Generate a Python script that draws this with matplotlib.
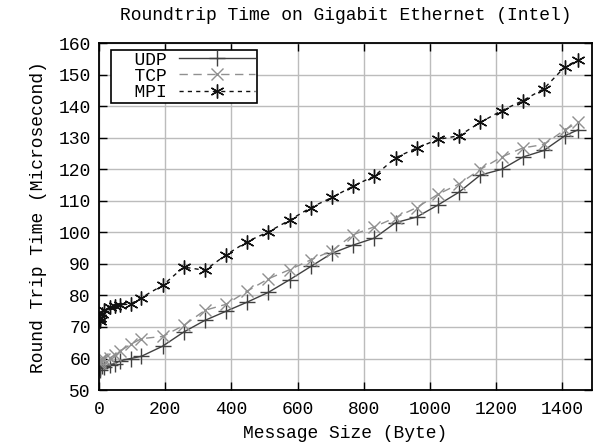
import matplotlib
matplotlib.use("Agg")
import matplotlib.pyplot as plt

plt.rcParams['font.family'] = ['Liberation Mono', 'DejaVu Sans Mono']

sizes = [1, 2, 4, 8, 16, 32, 48, 64, 96, 128, 192, 256, 320, 384, 448, 512,
         576, 640, 704, 768, 832, 896, 960, 1024, 1088, 1152, 1216, 1280,
         1344, 1408, 1448]

udp = [57.0, 56.5, 57.0, 57.5, 57.4, 58.0, 58.4, 59.3, 60.0, 60.7, 63.9, 68.4,
       72.1, 75.0, 77.9, 81.0, 85.0, 89.2, 93.4, 96.0, 98.2, 103.1, 104.9,
       108.7, 112.8, 118.2, 120.0, 123.9, 126.0, 130.7, 132.6]

tcp = [58.5, 59.0, 59.5, 60.0, 59.8, 60.2, 61.0, 62.4, 64.5, 66.3, 67.0, 70.5,
       75.3, 77.2, 81.4, 85.3, 88.2, 91.3, 94.2, 99.3, 101.8, 104.7, 107.9,
       112.1, 115.4, 120.0, 123.9, 126.8, 127.9, 132.6, 134.9]

mpi = [72.5, 72.0, 73.0, 74.0, 75.5, 76.2, 76.5, 77.0, 77.3, 79.3, 83.2, 89.0,
       88.0, 92.9, 97.1, 100.2, 103.9, 107.9, 111.1, 114.7, 117.9, 123.7,
       126.8, 129.5, 130.7, 134.9, 138.6, 141.8, 145.6, 152.6, 154.7]

series_names = ["UDP", "TCP", "MPI"]
title = "Roundtrip Time on Gigabit Ethernet (Intel)"
xlabel = "Message Size (Byte)"
ylabel = "Round Trip Time (Microsecond)"
xticks = [0, 200, 400, 600, 800, 1000, 1200, 1400]
yticks = [50, 60, 70, 80, 90, 100, 110, 120, 130, 140, 150, 160]

fig = plt.figure(figsize=(6.0, 4.42), dpi=100)
ax = fig.add_axes([0.165, 0.1176, 0.822, 0.7844])

fs = 13
ax.plot(sizes, udp, color='#404040', lw=1.0, ls='-', marker='+', ms=12,
        mew=1.0, label='  ' + series_names[0])
ax.plot(sizes, tcp, color='#909090', lw=1.0, ls=(0, (6, 4)), marker='x', ms=9,
        mew=1.0, label='  ' + series_names[1])
ax.plot(sizes, mpi, color='#111111', lw=1.0, ls=(0, (3, 3)), marker=(6, 2, 0),
        ms=10, mew=1.0, label='  ' + series_names[2])

ax.set_xlim(0, 1490)
ax.set_ylim(50, 160)
ax.set_xticks(xticks)
ax.set_yticks(yticks)
ax.tick_params(direction='in', length=5.5, width=1, top=True, right=True,
               labelsize=fs, colors='black')
ax.tick_params(axis='x', pad=8)
ax.tick_params(axis='y', pad=6)
ax.grid(True, color='#bcbcbc', lw=1.0)
ax.set_axisbelow(True)
for s in ax.spines.values():
    s.set_linewidth(1.3)
    s.set_color('black')

ax.set_title(title, fontsize=fs, pad=17)
ax.set_xlabel(xlabel, fontsize=fs, labelpad=5)
ax.set_ylabel(ylabel, fontsize=fs, labelpad=8)

leg = ax.legend(loc='upper left', bbox_to_anchor=(0.024, 0.981),
                markerfirst=False, fontsize=fs, frameon=True, fancybox=False,
                framealpha=1, edgecolor='black', handlelength=4.2,
                borderpad=0.1, labelspacing=-0.05, handletextpad=0.7,
                borderaxespad=0.0)
leg.get_frame().set_linewidth(1.2)

fig.savefig("out.png", dpi=100)
